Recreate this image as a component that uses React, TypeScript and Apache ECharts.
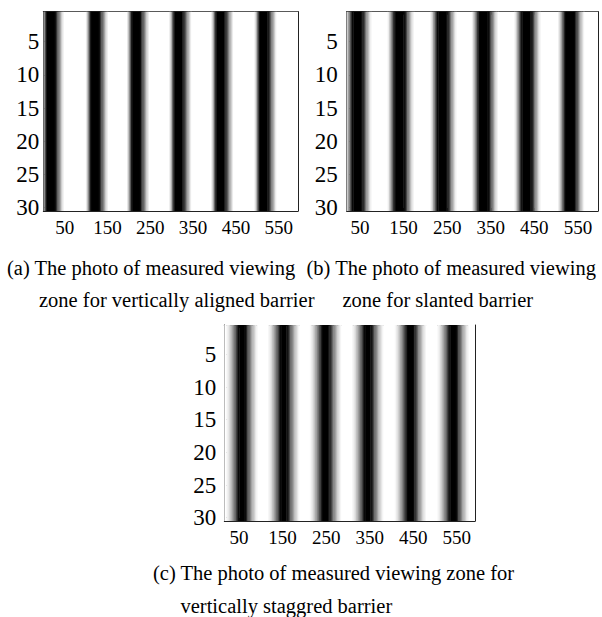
import React, { useEffect, useRef } from "react";
import * as echarts from "echarts";

// ---- data ----
const xTickValues = [50, 150, 250, 350, 450, 550];
const yTickValues = [5, 10, 15, 20, 25, 30];
const columnCount = 600;
const rowMin = 0.5;
const rowMax = 30.5;
const profileStep = 3;

// panel (a): vertically aligned barrier
const stripeCentersA = [18, 121, 217, 316, 414, 515];
const profileStartA = -21;
const profileA = [0.9, 0.7, 0.4, 0.1, 0, 0, 0, 0, 0, 0, 0.05, 0.2, 0.35, 0.5, 0.65, 0.8, 0.92];

// panel (b): slanted barrier
const stripeCentersB = [44, 141, 239, 334, 432, 532];
const profileStartB = -27;
const profileB = [0.93, 0.8, 0.62, 0.42, 0.2, 0.03, 0, 0, 0, 0, 0, 0, 0.02, 0.12, 0.28, 0.45, 0.6, 0.74, 0.86, 0.95];

// panel (c): vertically staggered barrier
const stripeCentersC = [57, 153, 249, 346, 444, 542];
const profileStartC = -36;
const profileC = [0.97, 0.92, 0.85, 0.76, 0.66, 0.55, 0.43, 0.3, 0.15, 0.03, 0, 0, 0, 0, 0.03, 0.14, 0.28, 0.4, 0.52, 0.63, 0.73, 0.82, 0.9, 0.96];

const captions = [
  { text: "(a) The photo of measured viewing", x: 7, y: 268 },
  { text: "zone for vertically aligned barrier", x: 39, y: 300 },
  { text: "(b) The photo of measured viewing", x: 306.5, y: 268 },
  { text: "zone for slanted barrier", x: 342.5, y: 300 },
  { text: "(c) The photo of measured viewing zone for", x: 153, y: 573 },
  { text: "vertically staggred barrier", x: 180.5, y: 606 },
];

type Panel = {
  centers: number[];
  start: number;
  profile: number[];
  xMin: number;
  xMax: number;
  grid: { left: number; top: number; width: number; height: number };
  labelMargin: number;
};

const panels: Panel[] = [
  { centers: stripeCentersA, start: profileStartA, profile: profileA, xMin: 0, xMax: 595,
    grid: { left: 43.3, top: 11.7, width: 254.7, height: 199.3 }, labelMargin: 4 },
  { centers: stripeCentersB, start: profileStartB, profile: profileB, xMin: 19.5, xMax: 596,
    grid: { left: 346.7, top: 11.7, width: 251.3, height: 199.3 }, labelMargin: 9 },
  { centers: stripeCentersC, start: profileStartC, profile: profileC, xMin: 16, xMax: 592,
    grid: { left: 224.3, top: 325, width: 250.7, height: 196 }, labelMargin: 8 },
];

function buildColumns(p: Panel): number[][] {
  const out: number[][] = [];
  for (let col = 1; col <= columnCount; col++) {
    let best = p.centers[0];
    for (const c of p.centers) if (Math.abs(col - c) < Math.abs(col - best)) best = c;
    const idx = Math.floor((col - best - p.start) / profileStep);
    const g = idx >= 0 && idx < p.profile.length ? p.profile[idx] : 1;
    const last = out[out.length - 1];
    if (last && last[2] === g) last[1] = col + 0.5;
    else out.push([col - 0.5, col + 0.5, g]);
  }
  return out;
}

const FONT = '"Liberation Serif", "Times New Roman", serif';
const FRAME = "#222";

export default function App() {
  const ref = useRef<HTMLDivElement>(null);
  useEffect(() => {
    document.body.style.margin = "0";
    if (!ref.current) return;
    const chart = echarts.init(ref.current, undefined, { renderer: "svg" });

    const grids: any[] = [];
    const xAxes: any[] = [];
    const yAxes: any[] = [];
    const series: any[] = [];

    panels.forEach((p, i) => {
      grids.push({ ...p.grid, containLabel: false, show: false });
      const common = {
        gridIndex: i,
        splitLine: { show: false },
        axisLine: { show: true, onZero: false, lineStyle: { color: FRAME, width: 1 } },
      };
      xAxes.push({
        ...common, type: "value", position: "bottom", min: p.xMin, max: p.xMax,
        axisTick: { show: true, inside: true, length: 3, customValues: xTickValues, lineStyle: { color: FRAME } },
        axisLabel: { show: true, customValues: xTickValues, margin: 7, fontFamily: FONT, fontSize: 19, color: "#000" },
      });
      xAxes.push({
        ...common, type: "value", position: "top", min: p.xMin, max: p.xMax,
        axisTick: { show: true, inside: true, length: 3, customValues: xTickValues, lineStyle: { color: FRAME } },
        axisLabel: { show: false },
      });
      yAxes.push({
        ...common, type: "value", position: "left", min: rowMin, max: rowMax, inverse: true,
        axisTick: { show: true, inside: true, length: 3, customValues: yTickValues, lineStyle: { color: FRAME } },
        axisLabel: { show: true, customValues: yTickValues, margin: p.labelMargin, fontFamily: FONT, fontSize: 23, color: "#000" },
      });
      yAxes.push({
        ...common, type: "value", position: "right", min: rowMin, max: rowMax, inverse: true,
        axisTick: { show: true, inside: true, length: 3, customValues: yTickValues, lineStyle: { color: FRAME } },
        axisLabel: { show: false },
      });
      series.push({
        type: "custom",
        xAxisIndex: 2 * i,
        yAxisIndex: 2 * i,
        data: buildColumns(p),
        z: 1,
        renderItem: (params: any, api: any) => {
          const x0 = api.value(0);
          const x1 = api.value(1);
          const g = api.value(2);
          const a = api.coord([x0, rowMin]);
          const b = api.coord([x1, rowMax]);
          const cs = params.coordSys;
          const rect = echarts.graphic.clipRectByRect(
            { x: Math.min(a[0], b[0]), y: Math.min(a[1], b[1]), width: Math.abs(b[0] - a[0]) + 0.4, height: Math.abs(b[1] - a[1]) },
            { x: cs.x, y: cs.y, width: cs.width, height: cs.height }
          );
          if (!rect) return null;
          const v = Math.round(g * 255);
          return { type: "rect", shape: rect, style: { fill: `rgb(${v},${v},${v})` } };
        },
      });
    });

    chart.setOption({
      animation: false,
      backgroundColor: "#fff",
      grid: grids,
      xAxis: xAxes,
      yAxis: yAxes,
      series,
      graphic: captions.map((c) => ({
        type: "text",
        x: c.x,
        y: c.y,
        style: { text: c.text, font: `20.5px ${FONT}`, fill: "#000", verticalAlign: "middle", align: "left" },
      })),
    });
    return () => chart.dispose();
  }, []);
  return <div ref={ref} style={{ width: 602, height: 617 }} />;
}
